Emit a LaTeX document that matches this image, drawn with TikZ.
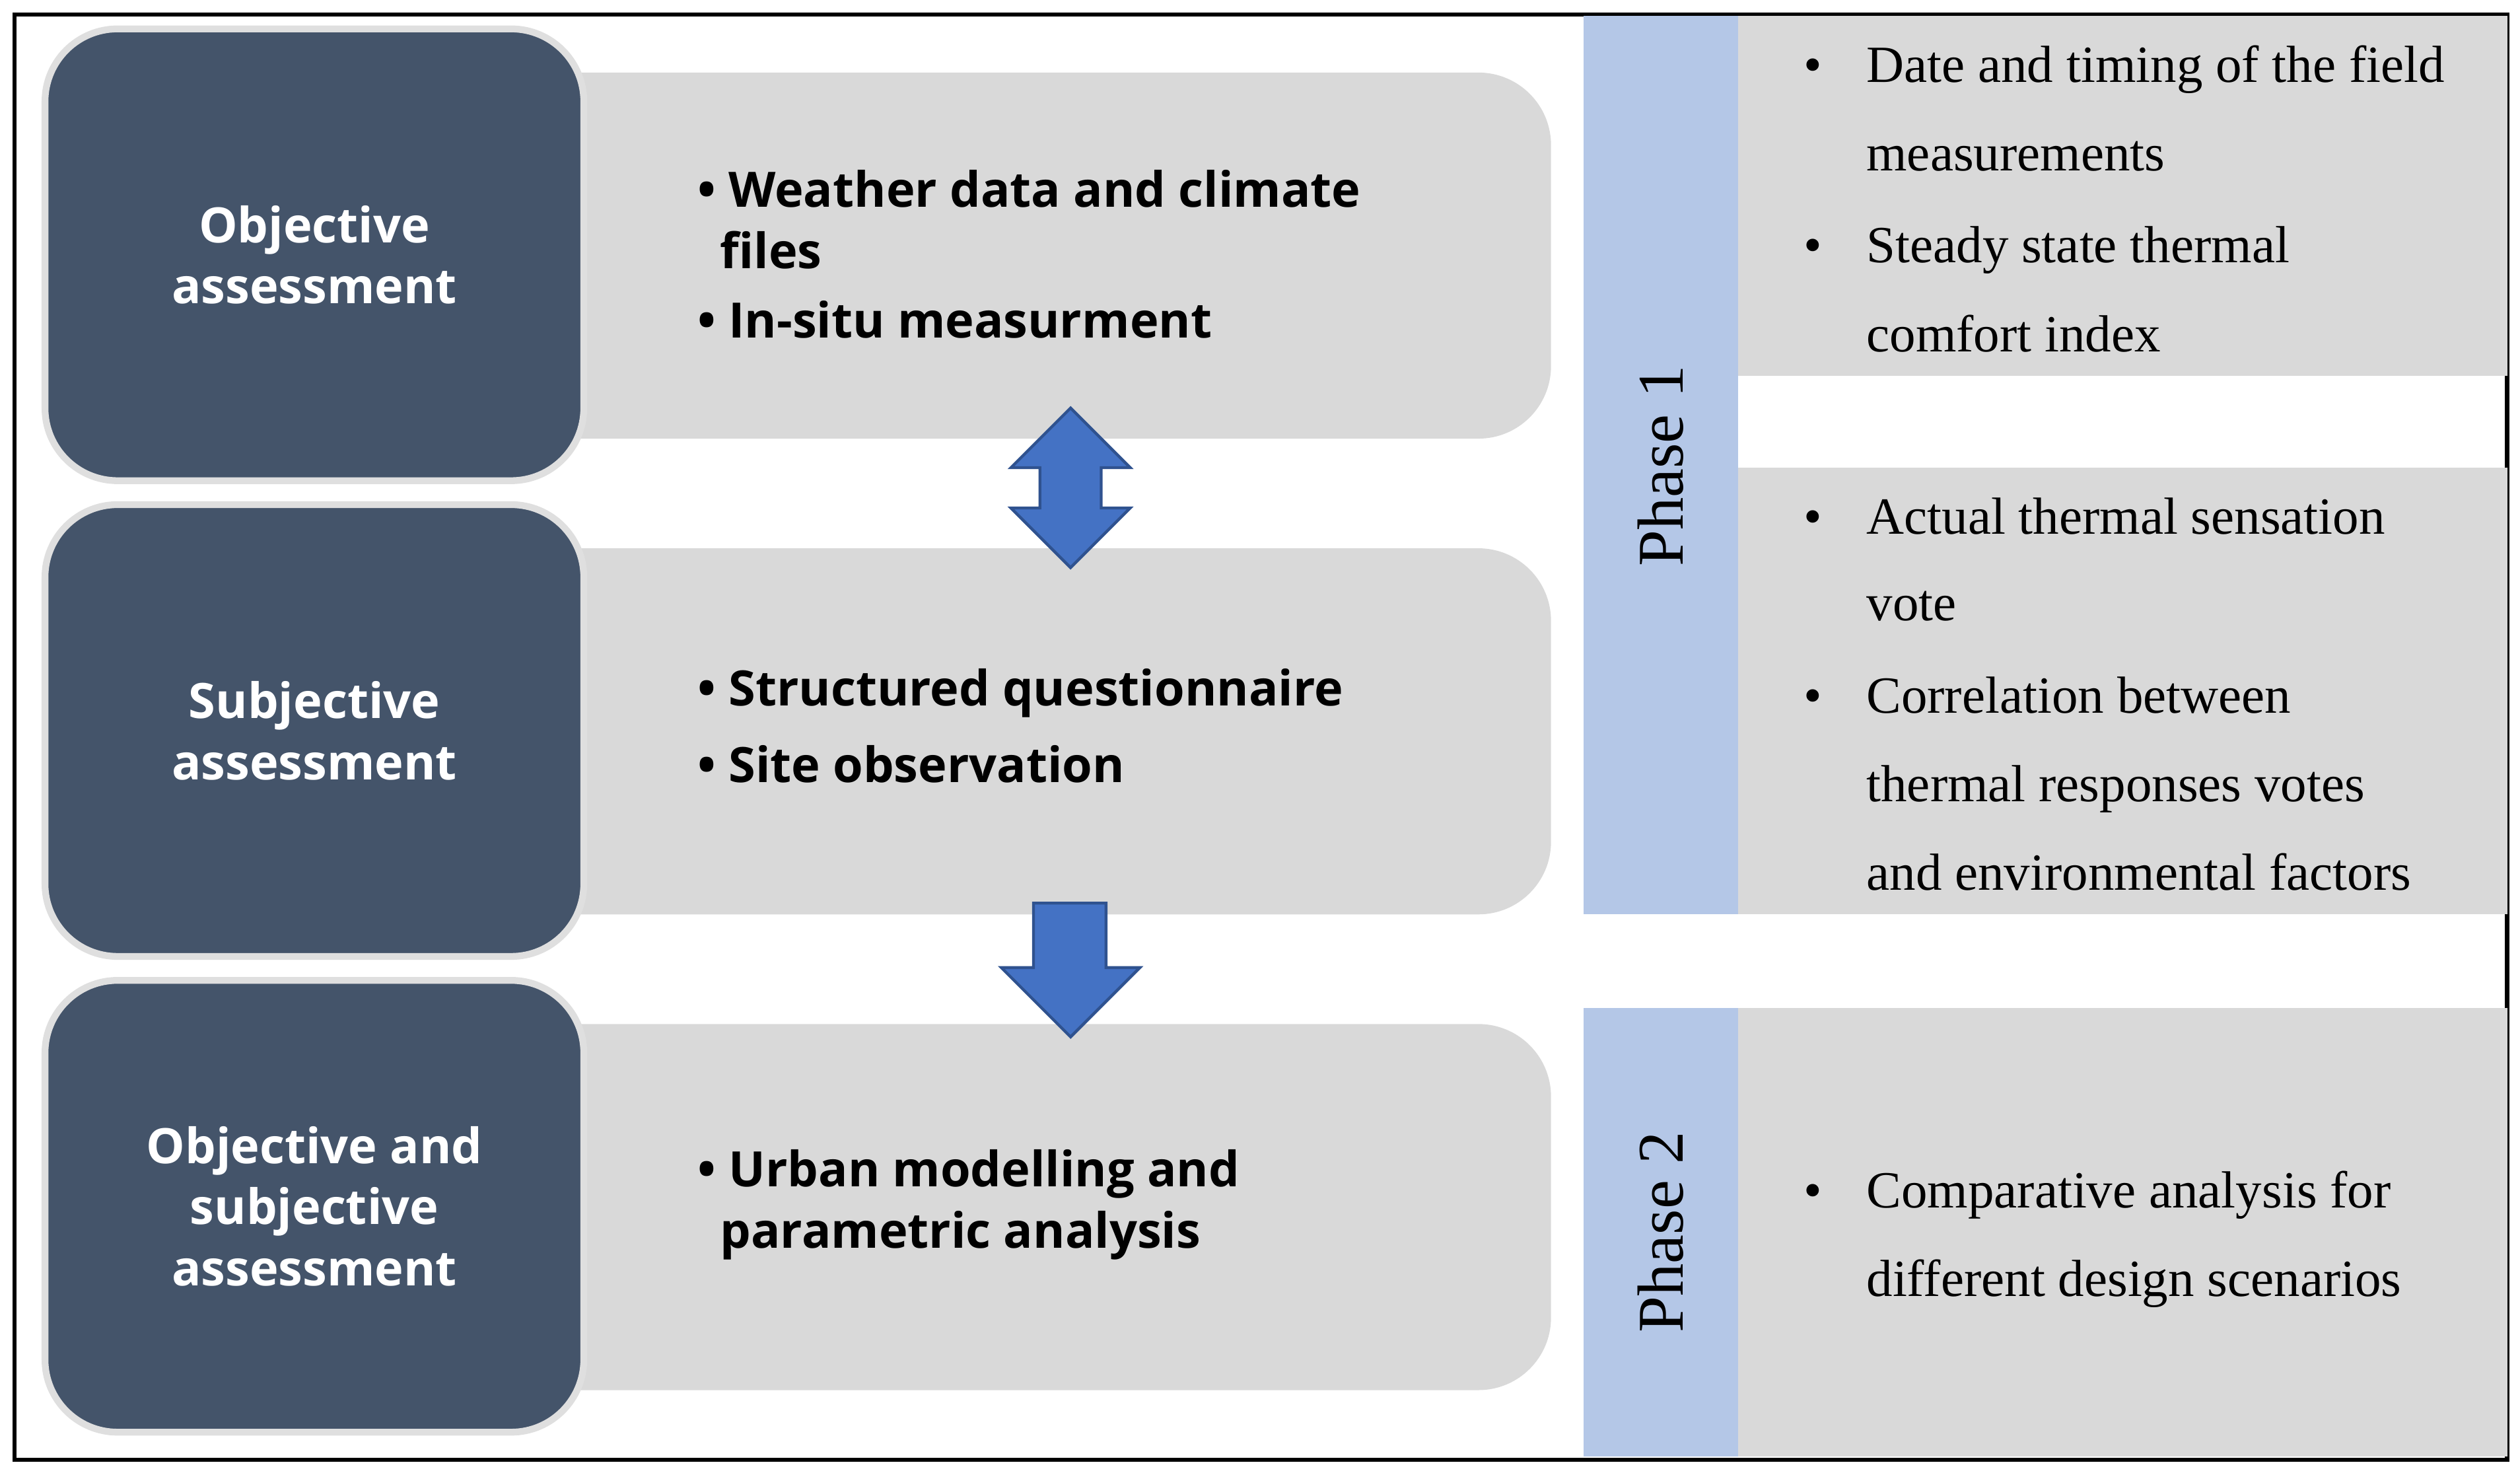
\documentclass[tikz,border=0pt]{standalone}
\usepackage{fontspec}
\setmainfont{Liberation Serif}
\newfontfamily\osans{Open Sans}
\definecolor{dk}{HTML}{44546A}
\definecolor{gr}{HTML}{D9D9D9}
\definecolor{lb}{HTML}{B4C7E7}
\definecolor{ab}{HTML}{4472C4}
\definecolor{abd}{HTML}{2F528F}
\begin{document}
\begin{tikzpicture}[x=0.01cm,y=-0.01cm,
  dark/.style={fill=dk,draw=gray!25,line width=1.2pt,rounded corners=0.45cm},
  gbox/.style={fill=gr,rounded corners=0.45cm},
  lbl/.style={text=white,font=\osans\bfseries\fontsize{8.6}{10.8}\selectfont,align=center},
  btx/.style={font=\osans\bfseries\fontsize{8.6}{10.8}\selectfont,anchor=west,inner sep=0},
  stx/.style={font=\fontsize{9.2}{10}\selectfont,anchor=base west,inner sep=0},
  ph/.style={font=\fontsize{11.5}{12}\selectfont,rotate=90},
  arr/.style={fill=ab,draw=abd,line width=0.5pt}]
\useasboundingbox (0,0) rectangle (1563,913);
\draw[line width=0.7pt] (9,9) rectangle (1555,905);
% gray boxes left
\foreach \y/\n in {45/g1,340/g2,635/g3}
  \path[gbox] (300,\y) rectangle (962,\y+227) coordinate (\n);
% dark boxes
\node[dark,minimum width=3.34cm,minimum height=2.8cm] (d1) at (195,158) {};
\node[dark,minimum width=3.34cm,minimum height=2.8cm] (d2) at (195,453) {};
\node[dark,minimum width=3.34cm,minimum height=2.8cm] (d3) at (195,748) {};
\node[lbl] at (d1) {Objective\\assessment};
\node[lbl] at (d2) {Subjective\\assessment};
\node[lbl] at (d3) {Objective and\\subjective\\assessment};
% bold bullets
\node[btx] (b1) at (432,117) {• Weather data and climate};
\node[btx] at (446,155) {files};
\node[btx] at (432,198) {• In-situ measurment};
\node[btx] at (432,430) {• Structured questionnaire};
\node[btx] at (432,474) {• Site observation};
\node[btx] at (432,728) {• Urban modelling and};
\node[btx] at (446,766) {parametric analysis};
% arrows
\draw[arr] (664,253) -- (701,290) -- (683,290) -- (683,315) -- (701,315) -- (664,352)
  -- (627,315) -- (645,315) -- (645,290) -- (627,290) -- cycle;
\draw[arr] (641,560) -- (686,560) -- (686,600) -- (707,600) -- (664,643) -- (621,600)
  -- (641,600) -- cycle;
% phase column
\fill[lb] (982,10) rectangle (1078,567);
\fill[lb] (982,625) rectangle (1078,903);
\node[ph] (p1) at (1030,289) {Phase 1};
\node[ph] (p2) at (1030,764) {Phase 2};
% right gray
\fill[gr] (1078,10) rectangle (1555,233);
\fill[gr] (1078,290) rectangle (1555,567);
\fill[gr] (1078,625) rectangle (1555,903);
\foreach \y/\t in {51/Date and timing of the field, 106/measurements, 163/Steady state thermal, 218/comfort index,
  331/Actual thermal sensation, 385/vote, 442/Correlation between, 497/thermal responses votes, 552/and environmental factors,
  749/Comparative analysis for, 804/different design scenarios}
  \node[stx] at (1157,\y) {\t};
\foreach \y in {51,163,331,442,749}
  \node[stx] at (1118,\y) {•};
\end{tikzpicture}
\end{document}
